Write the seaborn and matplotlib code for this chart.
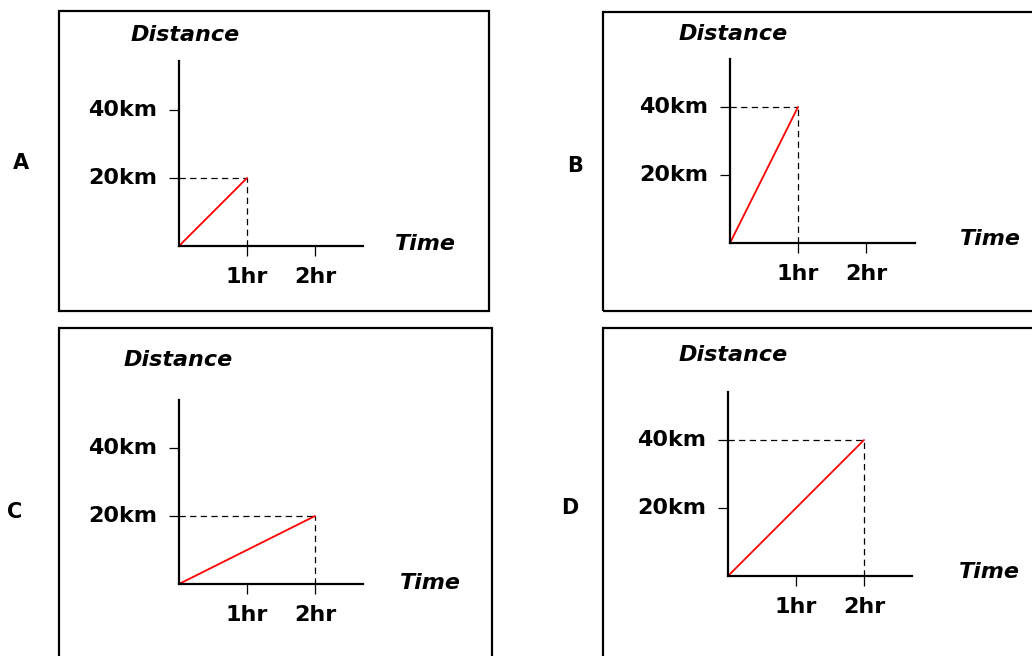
import matplotlib.pyplot as plt
import seaborn as sns
from matplotlib.patches import Rectangle

# chart data
panel_labels = ['A', 'B', 'C', 'D']
end_time = [1, 1, 2, 2]          # hr
end_distance = [20, 40, 20, 40]  # km
time_ticks = [1, 2]
time_tick_labels = ['1hr', '2hr']
distance_ticks = [20, 40]
distance_tick_labels = ['20km', '40km']

W, H = 1032, 656
PX_PER_UNIT = 68  # px per hour and per 20km

# layout in pixels: axis left, bottom, right, top
axes_px = [(179, 246, 363, 61), (730, 243, 915, 59), (179, 584, 363, 400), (728, 576, 912, 392)]
box_px = [(59, 11, 489, 311), (603, 12, 1045, 311), (59, 328, 492, 670), (603, 328, 1045, 670)]
letter_px = [(21, 163), (575, 166), (15, 512), (570, 508)]
dist_px = [(185, 35), (733, 34), (178, 360), (733, 355)]
time_px = [(425, 244), (990, 239), (430, 583), (989, 572)]

sns.set_style('white')
plt.rcParams['font.family'] = ['DejaVu Sans']
plt.rcParams['font.weight'] = 'bold'
plt.rcParams['text.color'] = 'black'

fig = plt.figure(figsize=(W / 100, H / 100), dpi=100)


def fx(x):
    return x / W


def fy(y):
    return 1 - y / H


for i, lab in enumerate(panel_labels):
    # outer box
    x0, y0, x1, y1 = box_px[i]
    fig.patches.append(Rectangle((fx(x0), fy(y1)), fx(x1 - x0), (y1 - y0) / H,
                                 transform=fig.transFigure, fill=False,
                                 edgecolor='black', linewidth=1.6, clip_on=False))

    l, b, r, t = axes_px[i]
    ax = fig.add_axes([fx(l), fy(b), fx(r - l), (b - t) / H])
    ax.patch.set_alpha(0)

    t_end = end_time[i]
    d_end = end_distance[i]
    # dashed guides
    ax.plot([0, t_end], [d_end, d_end], color='black', lw=0.9, dashes=(5, 3.5), clip_on=False)
    ax.plot([t_end, t_end], [0, d_end], color='black', lw=0.9, dashes=(5, 3.5), clip_on=False)
    sns.lineplot(x=[0, t_end], y=[0, d_end], ax=ax, color='#ff0000', lw=1.3)

    ax.set_xlim(0, (r - l) / PX_PER_UNIT)
    ax.set_ylim(0, (b - t) / PX_PER_UNIT * 20)
    ax.set_xticks(time_ticks)
    ax.set_xticklabels(time_tick_labels)
    ax.set_yticks(distance_ticks)
    ax.set_yticklabels(distance_tick_labels)
    ax.tick_params(bottom=True, left=True, direction='out', length=7, width=0.9,
                   colors='black', labelsize=16, pad=8)
    ax.tick_params(axis='y', pad=9)
    for tl in ax.get_yticklabels():
        tl.set_verticalalignment('center')
    sns.despine(ax=ax)
    for s in ['left', 'bottom']:
        ax.spines[s].set_linewidth(1.6)
        ax.spines[s].set_color('black')
    ax.set_xlabel('')
    ax.set_ylabel('')

    fig.text(fx(dist_px[i][0]), fy(dist_px[i][1]), 'Distance', ha='center', va='center',
             fontsize=16, fontweight='bold', fontstyle='italic', color='black')
    fig.text(fx(time_px[i][0]), fy(time_px[i][1]), 'Time', ha='center', va='center',
             fontsize=16, fontweight='bold', fontstyle='italic', color='black')
    fig.text(fx(letter_px[i][0]), fy(letter_px[i][1]), lab, ha='center', va='center',
             fontsize=15, fontweight='bold', color='black')

fig.savefig('out.png', dpi=100)
